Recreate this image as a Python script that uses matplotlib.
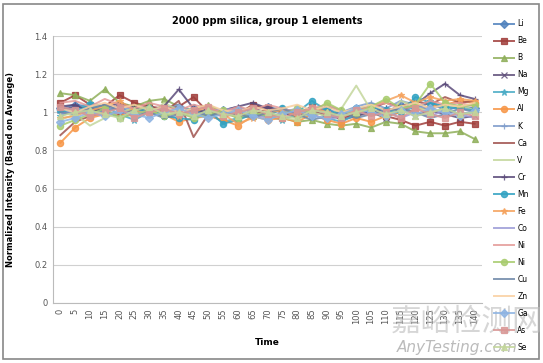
import matplotlib as mpl
mpl.use('Agg')
import matplotlib.pyplot as plt
from matplotlib.patches import Rectangle

time = list(range(0, 145, 5))

li = [1.02, 1.04, 1.03, 1.01, 1.02, 1.00, 1.03, 1.01, 1.00, 1.02, 0.99, 1.01, 1.00, 1.02, 1.03,
      1.01, 0.99, 1.00, 1.02, 0.98, 1.01, 1.03, 1.00, 1.04, 1.02, 1.05, 1.01, 1.03, 1.02]
be = [1.05, 1.09, 1.04, 1.03, 1.09, 1.05, 1.03, 1.02, 1.03, 1.08, 1.00, 0.98, 0.99, 1.04, 1.02,
      1.01, 0.99, 1.03, 0.98, 0.97, 0.99, 1.00, 0.98, 0.96, 0.93, 0.95, 0.93, 0.95, 0.94]
b = [1.10, 1.09, 1.06, 1.12, 1.05, 1.03, 1.06, 1.07, 1.03, 1.01, 1.04, 1.00, 0.97, 0.98, 1.00,
     0.97, 0.95, 0.96, 0.94, 0.93, 0.94, 0.92, 0.95, 0.94, 0.90, 0.89, 0.89, 0.90, 0.86]
na = [1.01, 1.03, 1.02, 1.00, 1.04, 1.02, 1.00, 1.03, 1.01, 0.99, 1.02, 1.00, 0.98, 1.01, 1.03,
      1.00, 0.97, 0.99, 1.01, 0.96, 0.98, 1.00, 0.97, 1.02, 0.98, 1.01, 0.99, 0.97, 0.98]
mg = [0.98, 1.01, 1.05, 1.03, 0.99, 0.96, 1.00, 0.98, 0.97, 1.01, 0.99, 0.95, 0.97, 1.00, 0.98,
      0.96, 0.99, 1.03, 0.97, 0.95, 0.99, 1.01, 0.98, 1.00, 1.03, 1.06, 1.02, 0.99, 1.00]
al = [0.84, 0.92, 0.97, 0.99, 0.98, 1.00, 1.02, 0.99, 0.95, 0.97, 0.98, 0.96, 0.93, 0.98, 0.96,
      0.97, 0.95, 0.99, 0.96, 0.94, 0.97, 0.95, 0.98, 1.00, 1.01, 1.03, 1.04, 1.06, 1.05]
k = [1.00, 1.02, 0.99, 1.01, 1.03, 1.01, 0.99, 1.02, 1.04, 1.00, 0.98, 1.01, 1.03, 1.00, 0.99,
     1.02, 1.00, 0.98, 1.01, 1.00, 1.03, 1.05, 1.02, 1.06, 1.04, 1.01, 1.05, 1.03, 1.04]
ca = [0.88, 0.95, 0.98, 1.00, 0.99, 1.02, 1.03, 1.00, 1.06, 0.87, 0.99, 1.01, 1.00, 0.98, 1.02,
      1.00, 0.99, 1.01, 0.98, 0.97, 1.00, 1.02, 1.05, 1.03, 1.06, 1.04, 1.08, 1.05, 1.06]
v = [0.96, 0.99, 0.93, 0.97, 1.00, 1.02, 0.98, 1.05, 1.01, 0.99, 0.97, 1.00, 1.02, 0.98, 1.00,
     0.97, 0.96, 1.00, 0.98, 1.02, 1.14, 1.01, 0.97, 1.06, 1.03, 1.00, 1.02, 1.04, 1.01]
cr = [1.03, 1.04, 1.00, 1.02, 1.05, 1.02, 1.01, 1.03, 1.12, 1.02, 0.99, 1.01, 1.03, 1.05, 1.02,
      1.01, 0.98, 1.00, 1.03, 1.01, 0.99, 1.00, 1.02, 1.01, 1.04, 1.10, 1.15, 1.09, 1.07]
mn = [1.01, 1.00, 1.04, 1.01, 0.97, 1.00, 1.02, 0.98, 0.97, 0.96, 1.01, 0.94, 0.96, 0.99, 0.98,
      1.02, 1.00, 1.06, 1.01, 0.99, 1.02, 1.03, 1.01, 1.00, 1.08, 1.05, 1.03, 1.02, 1.01]
fe = [0.97, 0.98, 1.01, 1.03, 1.06, 1.01, 0.99, 1.02, 0.98, 1.00, 1.03, 0.99, 0.94, 0.97, 1.00,
      1.01, 0.98, 1.03, 1.00, 0.98, 1.01, 1.03, 1.06, 1.09, 1.05, 1.08, 1.06, 1.07, 1.06]
co = [0.99, 1.01, 1.00, 0.98, 1.00, 0.99, 1.01, 1.02, 0.99, 0.98, 1.00, 1.02, 1.01, 0.99, 0.97,
      1.00, 1.02, 0.99, 0.96, 0.98, 1.00, 0.99, 1.01, 0.97, 1.00, 0.98, 1.01, 0.99, 0.97]
ni = [1.05, 1.06, 1.03, 1.07, 1.04, 1.02, 1.05, 1.03, 1.01, 1.04, 1.02, 1.00, 1.03, 1.01, 1.04,
      1.02, 1.00, 1.02, 1.04, 1.01, 1.00, 1.03, 1.05, 1.02, 1.03, 1.06, 1.04, 1.05, 1.03]
ni2 = [0.93, 0.96, 0.99, 1.02, 0.97, 0.99, 1.01, 0.98, 1.00, 0.97, 0.99, 1.01, 0.97, 1.00, 0.98,
       0.99, 1.02, 1.00, 1.05, 1.01, 0.99, 1.03, 1.07, 1.02, 1.04, 1.15, 1.05, 1.03, 1.04]
cu = [1.00, 0.99, 1.02, 1.04, 1.01, 0.98, 1.00, 0.97, 0.99, 1.01, 0.98, 1.00, 0.99, 0.97, 1.00,
      1.02, 0.99, 0.96, 0.98, 1.00, 0.97, 0.99, 1.01, 1.02, 1.00, 0.97, 0.99, 1.02, 1.00]
zn = [1.02, 1.00, 1.03, 1.05, 1.02, 1.04, 1.01, 1.03, 1.00, 1.02, 1.04, 1.01, 1.00, 1.03, 1.01,
      1.02, 1.04, 1.01, 1.03, 1.00, 1.02, 1.04, 1.01, 1.03, 1.05, 1.02, 1.04, 1.03, 1.05]
ga = [0.95, 0.97, 1.00, 0.98, 1.01, 0.99, 0.97, 1.00, 1.02, 0.99, 0.97, 0.99, 1.01, 0.98, 0.96,
      0.99, 1.01, 0.98, 0.97, 0.99, 1.02, 1.00, 0.98, 1.01, 0.99, 1.02, 1.00, 0.98, 1.01]
as_ = [1.03, 1.01, 0.98, 1.00, 1.02, 0.97, 1.00, 1.02, 0.99, 1.01, 1.03, 0.98, 1.00, 1.02, 0.99,
       0.97, 1.00, 1.02, 0.99, 0.97, 1.01, 0.98, 1.00, 0.97, 1.02, 0.99, 0.97, 1.00, 0.98]
se = [0.98, 1.00, 1.01, 0.99, 0.97, 1.01, 1.03, 0.99, 1.00, 0.98, 1.01, 0.99, 0.98, 1.01, 1.00,
      0.98, 0.97, 1.01, 1.00, 0.98, 1.00, 1.02, 0.99, 1.01, 0.98, 1.00, 1.02, 0.99, 1.00]

names = ['Li', 'Be', 'B', 'Na', 'Mg', 'Al', 'K', 'Ca', 'V', 'Cr',
         'Mn', 'Fe', 'Co', 'Ni', 'Ni', 'Cu', 'Zn', 'Ga', 'As', 'Se']
series = [li, be, b, na, mg, al, k, ca, v, cr, mn, fe, co, ni, ni2, cu, zn, ga, as_, se]
colors = ['#4F81BD', '#A03E3B', '#8FAF5A', '#5F4F7A', '#4BACC6', '#F79646', '#7E9CCB',
          '#A0524E', '#C3D69B', '#5A4A7A', '#31A2C2', '#F5A35E', '#9C9BD6', '#E49A98',
          '#A8CC6E', '#6D87A8', '#F9CFA0', '#8DB3E2', '#D99694', '#C3D69B']
markers = ['D', 's', '^', 'x', '*', 'o', '+', 'None', 'None', '+',
           'o', '*', 'None', 'None', 'o', 'None', 'None', 'D', 's', '^']

fig = plt.figure(figsize=(5.43, 3.63), dpi=100)
ax = fig.add_axes([0.0976, 0.1653, 0.7901, 0.7355])
x = list(range(len(time)))
for vals, name, c, m in zip(series, names, colors, markers):
    ax.plot(x, vals, color=c, marker=m, markersize=4.5, linewidth=1.4,
            markeredgewidth=0.9, label=name, alpha=0.85)

ax.set_xlim(-0.5, len(time) - 0.5)
ax.set_ylim(0, 1.4)
ax.set_yticks([0, 0.2, 0.4, 0.6, 0.8, 1.0, 1.2, 1.4])
ax.set_yticklabels(['0', '0.2', '0.4', '0.6', '0.8', '1', '1.2', '1.4'])
ax.set_xticks(x)
ax.set_xticklabels([str(t) for t in time], rotation=90)
ax.tick_params(axis='both', labelsize=6, colors='#555555', length=0, pad=4)
ax.grid(axis='y', color='#D0D0D0', linewidth=0.8)
ax.set_axisbelow(True)
for s in ['top', 'right']:
    ax.spines[s].set_visible(False)
for s in ['left', 'bottom']:
    ax.spines[s].set_color('#BBBBBB')

ax.set_title('2000 ppm silica, group 1 elements', fontsize=7, fontweight='bold', pad=9)
ax.set_xlabel('Time', fontsize=6.5, fontweight='bold', labelpad=10)
ax.set_ylabel('Normalized Intensity (Based on Average)', fontsize=6, fontweight='bold', labelpad=14)

fig.legend(loc='upper left', bbox_to_anchor=(0.905, 0.955), frameon=False, fontsize=5.5,
           labelspacing=1.05, handlelength=2.6, handletextpad=0.4, borderaxespad=0)

fig.patches.append(Rectangle((0.006, 0.012), 0.986, 0.978, transform=fig.transFigure,
                             fill=False, edgecolor='#888888', linewidth=1.2))

# watermark of the source image
fig.text(0.72, 0.09, '嘉峪检测网', fontsize=22, color='#BBBBBB', alpha=0.6,
         family=['Noto Sans CJK SC', 'DejaVu Sans'])
fig.text(0.73, 0.03, 'AnyTesting.com', fontsize=11, color='#AAAAAA', style='italic', alpha=0.8)

fig.savefig('out.png', dpi=100)
